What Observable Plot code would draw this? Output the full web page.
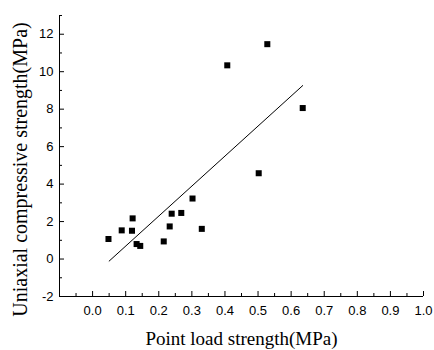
<!DOCTYPE html>
<html><head><meta charset="utf-8">
<script src="https://cdn.jsdelivr.net/npm/d3@7"></script>
<script src="https://cdn.jsdelivr.net/npm/@observablehq/plot@0.6"></script>
<style>html,body{margin:0;padding:0;background:#fff}</style>
</head><body><div id="chart"></div>
<script>
// Data
const pointLoad = [0.048, 0.088, 0.119, 0.121, 0.133, 0.144, 0.215, 0.233, 0.239, 0.268, 0.302, 0.330, 0.502, 0.407, 0.528, 0.635];
const ucs       = [1.07, 1.53, 1.51, 2.17, 0.80, 0.70, 0.94, 1.74, 2.42, 2.46, 3.23, 1.61, 4.58, 10.34, 11.47, 8.06];
// fitted line endpoints
const fitX = [0.05, 0.635];
const fitY = [-0.11, 9.26];
// ticks
const xMajor = [-0.1, 0.0, 0.1, 0.2, 0.3, 0.4, 0.5, 0.6, 0.7, 0.8, 0.9, 1.0];
const xLabels = [0.0, 0.1, 0.2, 0.3, 0.4, 0.5, 0.6, 0.7, 0.8, 0.9, 1.0];
const xMinor = [-0.05, 0.05, 0.15, 0.25, 0.35, 0.45, 0.55, 0.65, 0.75, 0.85, 0.95];
const yMajor = [-2, 0, 2, 4, 6, 8, 10, 12];
const yMinor = [-1, 1, 3, 5, 7, 9, 11, 13];
const xTitle = "Point load strength(MPa)";
const yTitle = "Uniaxial compressive strength(MPa)";

const W = 434, H = 350, mL = 59, mR = 11, mT = 15, mB = 54;
const plotW = W - mL - mR, plotH = H - mT - mB;
const serif = "'Liberation Serif', 'Times New Roman', serif";
const points = pointLoad.map((x, i) => ({x, y: ucs[i]}));
const fit = fitX.map((x, i) => ({x, y: fitY[i]}));

const chart = Plot.plot({
  width: W, height: H,
  marginLeft: mL, marginRight: mR, marginTop: mT, marginBottom: mB,
  style: {fontFamily: "'Liberation Sans', Arial, sans-serif", fontSize: "13px", color: "#000", background: "#fff", overflow: "visible"},
  x: {domain: [-0.1, 1.0]},
  y: {domain: [-2, 13]},
  marks: [
    Plot.axisX(xLabels, {tickSize: 0, tickPadding: 9, tickFormat: d => d.toFixed(1), label: null, fontSize: 13, fill: "#000"}),
    Plot.axisY(yMajor, {tickSize: 0, tickPadding: 6, tickFormat: d => String(d), label: null, fontSize: 13, fill: "#000"}),
    Plot.tickX(xMajor, {x: d => d, insetTop: plotH - 5, stroke: "#000"}),
    Plot.tickX(xMinor, {x: d => d, insetTop: plotH - 3, stroke: "#000"}),
    Plot.tickY(yMajor, {y: d => d, insetRight: plotW - 5, stroke: "#000"}),
    Plot.tickY(yMinor, {y: d => d, insetRight: plotW - 3, stroke: "#000"}),
    Plot.ruleX([-0.1], {stroke: "#000"}),
    Plot.ruleY([-2], {stroke: "#000"}),
    Plot.line(fit, {x: "x", y: "y", stroke: "#000", strokeWidth: 1}),
    Plot.dot(points, {x: "x", y: "y", symbol: "square", r: 3.4, fill: "#000", stroke: "none"}),
    Plot.text([xTitle], {frameAnchor: "bottom", dy: 48, lineAnchor: "bottom", textAnchor: "middle", fontFamily: serif, fontSize: 19, fill: "#000"}),
    Plot.text([yTitle], {frameAnchor: "left", rotate: -90, dx: -33, dy: 13.5, lineAnchor: "bottom", textAnchor: "middle", fontFamily: serif, fontSize: 20, fill: "#000"})
  ]
});
document.getElementById("chart").appendChild(chart);
</script>
</body></html>
